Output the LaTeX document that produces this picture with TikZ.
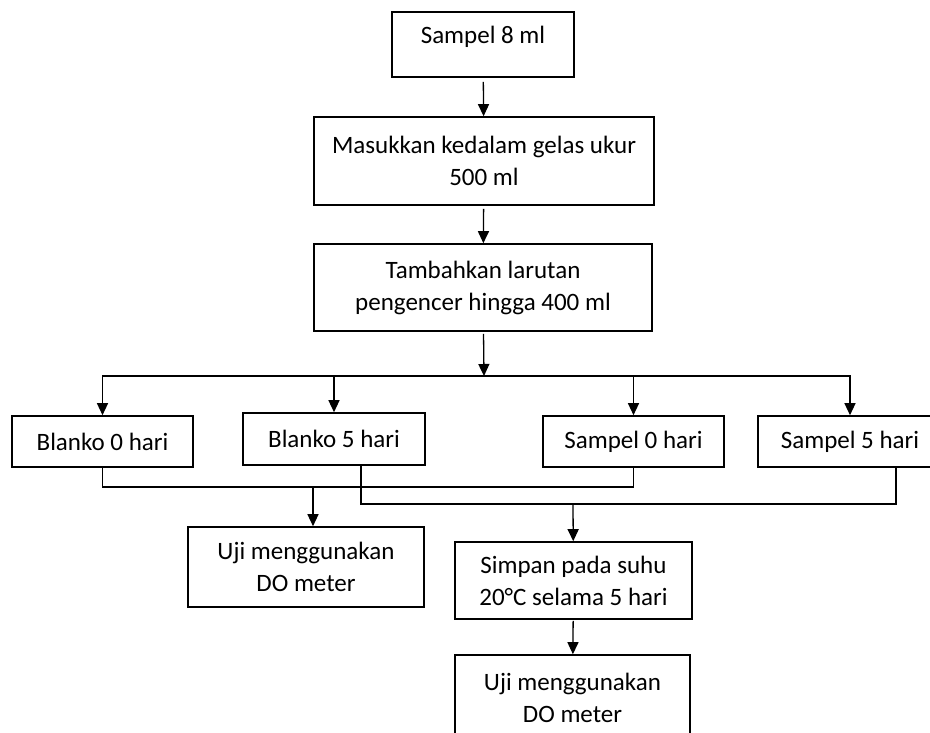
\documentclass[tikz,border=0pt]{standalone}
\usepackage{fontspec}
\setmainfont{Carlito}
\usetikzlibrary{arrows.meta,calc}

\begin{document}
\begin{tikzpicture} [x=1pt, y=-1pt]
    \tikzstyle{every node}=[align = center, inner sep=0pt,
				% The border:
				draw=black, line width=1.6pt,
				% The text:
				font=\fontsize{25}{32}\selectfont
					]
    \tikzstyle{arrow} = [line width=1.3pt, -{Triangle[width=11pt,length=12pt]}]
    \tikzstyle{link} = [line width=1.3pt]
    \useasboundingbox (0,0) rectangle (930,733);
    \clip (0,0) rectangle (930,733);

    \node[minimum width=182pt, minimum height=65pt, text depth=20pt] (s8) at (483,44.5) {Sampel 8 ml};
    \node[minimum width=340pt, minimum height=88pt] (mk) at (484,161) {Masukkan kedalam gelas ukur\\500 ml};
    \node[minimum width=338pt, minimum height=87pt] (tb) at (483,287.5) {Tambahkan larutan\\pengencer hingga 400 ml};

    \node[minimum width=181pt, minimum height=51pt] (b0) at (102.5,441.5) {Blanko 0 hari};
    \node[minimum width=182pt, minimum height=52pt] (b5) at (334,439) {Blanko 5 hari};
    \node[minimum width=181pt, minimum height=51pt] (s0) at (633.5,441.5) {Sampel 0 hari};
    \node[minimum width=184pt, minimum height=51pt] (s5) at (850,441.5) {Sampel 5 hari};

    \node[minimum width=236pt, minimum height=80pt] (uj1) at (306,567) {Uji menggunakan\\DO meter};
    \node[minimum width=237pt, minimum height=77pt] (sp) at (573.5,580.5) {Simpan pada suhu\\20°C selama 5 hari};
    \node[minimum width=235pt, minimum height=85pt] (uj2) at (572.5,697.5) {Uji menggunakan\\DO meter};

    \coordinate (hub) at (484,376);
    \coordinate (j1) at (313,487);
    \coordinate (j2) at (573,504);

    \draw[arrow, shorten <=4pt] (s8) -- (mk);
    \draw[arrow, shorten <=3pt] (mk) -- (tb);
    \draw[arrow, shorten <=2pt] (tb) -- (hub);
    \draw[arrow] (hub) -| (b0);
    \draw[arrow] (hub) -| (b5);
    \draw[arrow] (hub) -| (s0);
    \draw[arrow] (hub) -| (s5);

    \draw[link] (b0.south) |- (s0.south |- j1) -- (s0.south);
    \draw[link] ([xshift=27pt]b5.south) |- ([xshift=46pt]s5.south |- j2) -- ([xshift=46pt]s5.south);
    \draw[arrow] (j1) -- (j1 |- uj1.north);
    \draw[arrow] (j2) -- (sp);
    \draw[arrow, shorten <=1pt] (sp) -- (uj2);
\end{tikzpicture}
\end{document}
